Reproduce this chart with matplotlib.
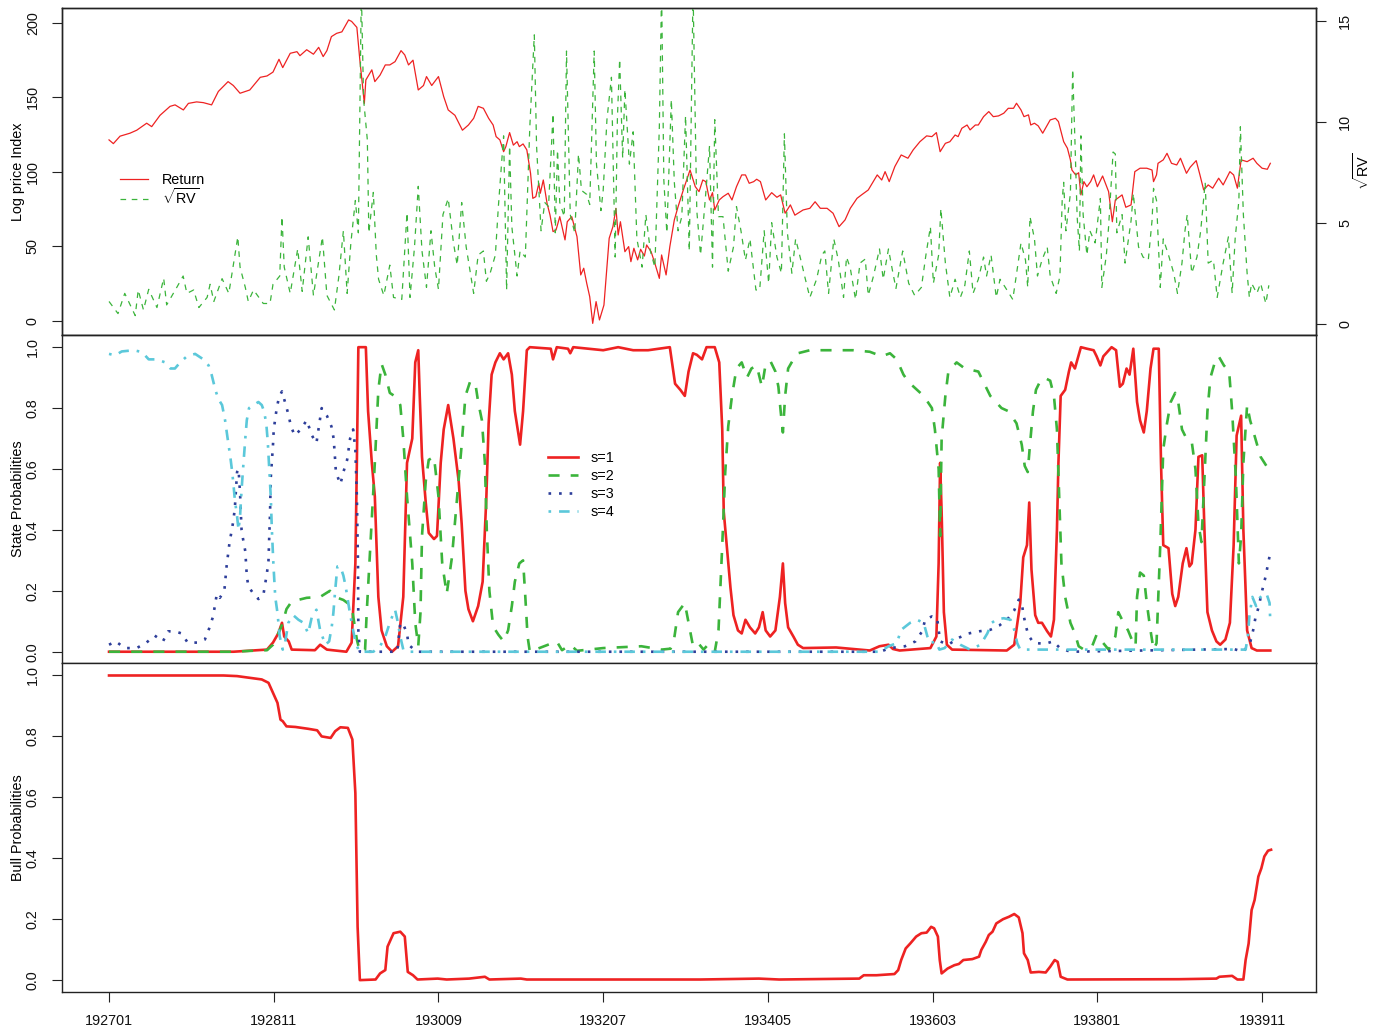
import matplotlib
matplotlib.use("Agg")
import matplotlib.pyplot as plt
import numpy as np

# ---------------- data (time in months since 1927-01) ----------------
tick_months = [0, 22, 44, 66, 88, 110, 132, 154]
tick_labels = ["192701", "192811", "193009", "193207", "193405", "193603", "193801", "193911"]

ret_t = [0.0,0.58,1.47,2.8,3.7,5.03,5.7,6.81,8.15,8.82,9.93,10.6,11.7,12.6,13.7,14.6,15.9,16.6,17.5,18.8,
         20.2,21.1,21.9,22.7,23.2,24.2,25.1,25.5,26.4,27.3,28.0,28.6,29.1,29.7,30.4,31.1,32.0,32.4,33.1,33.5,
         34.1,34.3,35.1,35.5,36.2,36.9,37.5,38.2,39.0,39.5,40.0,40.6,41.3,42.0,42.4,43.1,44.0,44.7,45.3,46.2,
         47.2,48.0,48.7,49.3,50.0,50.7,51.3,51.7,52.2,52.7,53.0,53.5,54.0,54.5,54.8,55.3,55.8,56.3,56.6,57.0,
         57.4,57.6,58.0,58.5,58.9,59.3,59.7,60.2,60.6,60.9,61.2,61.8,62.5,63.0,63.4,63.8,64.2,64.6,65.05,65.5,
         66.1,66.8,67.3,67.7,68.0,68.3,68.9,69.4,69.7,70.1,70.6,71.0,71.5,71.8,72.4,72.9,73.5,73.8,74.4,74.9,
         75.5,76.0,76.7,77.6,78.3,78.8,79.3,79.7,80.2,80.6,80.9,81.5,82.0,82.7,83.2,83.8,84.5,85.0,85.5,86.1,
         86.5,87.0,87.7,88.5,89.2,89.7,90.3,91.0,91.6,92.7,93.6,94.3,95.0,95.9,96.7,97.5,98.3,99.0,99.9,100.5,
         101.4,102.6,103.2,103.65,104.2,104.95,105.8,106.7,107.4,108.3,109.2,109.9,110.5,111.0,111.7,112.3,
         113.0,113.4,113.9,114.6,115.0,115.7,116.1,116.8,117.5,118.1,118.8,119.5,120.1,120.8,121.2,121.8,122.2,
         122.8,123.1,123.6,124.1,124.7,125.2,125.7,126.4,126.8,127.5,128.0,128.4,128.6,129.1,129.5,129.8,130.2,
         130.6,131.1,131.5,132.0,132.7,133.5,134.0,134.4,135.3,135.8,136.5,137.0,137.7,138.6,139.3,139.5,139.9,
         140.1,140.8,141.3,141.9,142.6,143.1,143.9,144.4,145.2,145.7,146.2,146.8,147.4,148.2,148.8,149.7,150.2,
         150.7,151.2,152.0,152.8,153.3,154.0,154.7,155.1]
ret_v = [121.5,119,124,126,128,132.7,130.4,138,144,145,141.6,146,147,146.5,145,154,160.6,158,152.8,155,
         163.5,164.4,167,175.6,170,179.6,180.7,178,182,179,183.6,177.4,181.4,190.8,193,194,202,201,197,175,
         146,161.7,168.5,160.6,165,171.8,171.8,174,181.4,178.5,171.8,175,155,158,164,158,164,150.5,141.6,138,
         128,131.5,136,144,142.7,136,131.5,123.7,121.5,113.6,117,126.4,118,120.3,117,118.8,114.8,99,82.3,83.4,
         92.4,85.7,94.6,79,71,60,61,70,61,54.4,66.6,70,56.6,30.9,35.4,25.3,16.3,-1.6,13,0.7,
         10.7,55.5,63.3,75.6,57.7,66.6,46.5,49.9,39.8,48.8,41,48.1,43.6,51,46.5,38.7,28.6,44.3,30.9,49.9,
         67.8,76.7,87.9,101.3,90.1,86.8,94.6,93.5,81.2,86.1,74.5,81.2,83.4,85.7,81.2,90.1,98,98,92.4,93.5,
         95.1,93.5,81.2,86.1,83,84.6,72.3,77.9,71,74.5,75.6,80,75.6,75.6,72.3,63.3,67.8,75.6,82.3,84.6,
         87.9,98,94.6,100.2,93.5,103.6,111.4,109.2,114.8,120.3,124.2,123.7,126.4,113.6,119.2,120.3,
         124.8,123.7,129.3,131.5,128.2,131.5,131.5,137.1,140.5,137.1,137.6,139.4,142.7,142.7,146.1,141.6,137.1,
         138.3,131.5,132.7,130.9,126,130.4,134.9,136,133.8,120.3,115.9,108.1,101.3,98,99.5,84.6,93.5,
         90.1,93.5,98,90.1,97.3,86.8,66.6,81.2,84.6,76.3,77.9,100.2,102.5,102.5,101.3,93.5,98,
         105.8,108.1,112.5,105.8,104.7,109.2,99.1,103.2,107.6,98,87.9,91.3,89.1,95.8,91.3,100.2,98,
         89.1,108.1,106.9,109.2,105.8,102.5,101.8,105.8]

rv_t = [0.0,1.2,2.1,3.5,3.9,4.6,5.3,6.4,7.3,7.7,9.1,9.9,10.4,11.3,12.0,13.1,13.5,14.0,15.1,16.0,16.6,17.2,17.5,
        18.2,18.6,19.3,20.6,21.5,21.9,22.8,23.1,23.4,24.2,25.2,25.8,26.6,27.3,28.5,29.1,30.1,30.7,31.3,31.8,
        32.3,32.9,33.3,33.7,34.0,34.5,34.7,35.3,35.7,36.0,36.7,37.5,38.0,39.1,39.8,40.2,40.8,41.3,41.8,42.4,
        43.0,43.5,44.0,44.6,45.3,46.0,46.5,47.1,47.7,48.7,49.3,50.0,50.4,
        50.9,51.6,52.0,52.7,53.1,53.5,53.8,54.5,54.9,55.6,56.2,56.8,57.1,57.7,58.2,58.7,59.3,59.6,59.9,60.2,
        60.8,61.1,61.6,62.2,62.7,63.1,63.8,64.2,64.8,65.1,65.7,66.0,66.5,67.1,67.6,67.9,68.2,68.6,68.9,69.5,
        70.0,70.5,71.2,71.7,72.3,72.9,73.2,73.5,73.8,74.1,74.5,75.1,75.5,76.0,76.5,77.0,77.5,78.0,78.5,79.0,
        79.6,80.2,80.6,80.9,81.4,82.0,82.7,83.4,83.8,84.4,85.0,85.6,86.4,86.9,87.5,88.1,88.5,89.2,89.8,90.2,
        90.6,91.2,91.7,92.5,92.9,93.6,94.5,95.2,95.6,96.1,96.8,97.4,98.1,98.5,99.0,99.7,100.3,101.0,101.4,
        102.1,102.9,103.4,104.1,104.7,
        105.1,106.0,106.8,107.6,108.5,109.1,109.7,110.1,110.8,111.1,111.7,112.3,113.0,113.7,114.3,114.9,115.4,
        116.1,116.8,117.2,117.8,118.5,119.0,119.7,120.7,121.1,121.8,122.4,122.7,123.0,123.6,124.0,124.6,125.3,
        125.7,126.5,127.0,127.3,127.5,127.8,128.4,128.7,129.0,129.3,129.6,129.8,130.1,130.6,131.0,131.7,132.4,
        132.6,133.2,133.5,134.1,134.4,134.6,135.3,135.7,136.5,136.8,137.5,138.1,138.8,139.3,139.5,139.9,140.4,
        140.8,141.5,142.2,142.7,143.3,143.7,144.0,144.6,145.3,145.8,146.4,146.8,147.5,148.0,148.8,149.5,150.0,
        150.4,150.9,151.1,151.5,152.0,152.3,152.6,153.3,153.8,154.5,154.9]
rv_v = [1.1,0.5,1.5,0.4,1.67,0.68,1.7,0.8,2.25,0.93,1.83,2.36,1.5,1.67,0.8,1.3,1.95,1.1,2.23,1.5,2.9,4.3,2.8,
        1.8,1.1,1.67,1.0,1.0,1.95,2.36,5.3,2.8,1.5,3.7,1.6,4.3,1.4,4.3,1.4,0.68,2.36,4.6,1.5,
        4.0,6.1,4.5,16.5,11.1,9.1,4.5,6.5,3.4,2.2,1.4,2.9,1.3,1.2,5.5,1.3,3.8,6.8,3.6,1.8,
        4.6,2.8,1.7,5.4,6.2,4.0,2.9,6.0,3.8,1.5,3.4,3.6,2.1,
        2.5,3.4,5.8,9.3,1.67,8.8,4.8,2.36,3.6,3.3,9.75,14.3,8.8,4.6,6.0,5.8,10.4,4.5,8.6,6.0,
        5.3,13.5,5.4,4.5,8.4,6.6,6.4,5.9,13.5,7.9,5.6,6.6,10.1,12.2,3.3,10.2,13.1,8.2,11.6,7.9,
        9.5,4.2,2.8,5.4,3.6,2.8,6.2,9.75,16.5,7.1,4.5,11.1,7.0,4.6,5.3,10.3,3.6,16.5,5.6,3.4,
        6.0,8.8,2.8,10.1,5.3,5.3,2.6,3.8,5.8,4.6,3.15,4.2,1.67,1.67,4.6,2.0,5.0,3.3,2.5,9.4,
        4.5,2.5,4.2,3.0,2.36,1.3,2.2,3.4,3.6,1.5,4.2,3.15,1.3,3.3,2.75,1.2,3.0,3.2,1.4,
        2.36,3.7,2.2,3.7,2.5,
        1.75,3.6,2.0,1.4,1.8,3.4,4.8,2.0,3.4,5.7,3.0,1.3,2.2,1.3,1.9,3.6,1.5,
        2.2,3.3,2.36,3.4,1.3,2.2,1.8,1.2,2.2,4.0,3.15,1.8,5.3,4.2,2.36,3.15,3.8,
        2.36,1.5,2.36,6.1,7.0,4.6,6.45,12.6,9.1,5.3,3.6,9.3,5.4,3.4,4.6,4.0,6.2,
        1.8,3.4,4.8,8.5,8.4,4.5,5.4,3.0,5.1,6.45,3.8,3.3,3.15,5.1,6.7,6.1,1.8,
        4.2,3.4,2.5,1.5,3.0,4.6,5.4,2.5,3.3,4.6,7.0,3.0,3.15,1.3,3.0,4.3,1.5,
        4.2,6.1,9.75,5.4,2.5,1.3,2.0,1.5,2.0,1.0,1.9]

s1_t = [0,16.6,21.1,21.9,22.6,23.1,23.4,24.0,24.4,27.5,28.2,29.1,31.7,32.4,32.9,33.1,33.3,34.3,34.6,35.1,35.5,
        35.97,36.4,37.1,37.8,38.6,39.3,39.8,40.5,40.9,41.3,41.5,41.8,42.3,42.7,43.4,43.8,44.3,44.7,45.3,46.0,
        46.7,47.1,47.6,48.0,48.6,49.3,49.9,50.4,50.7,51.1,51.6,52.2,52.7,53.3,53.8,54.2,54.9,55.3,55.8,56.2,
        59.0,59.3,59.8,61.3,61.6,62.0,66.0,68.0,70.0,72.0,74.9,75.6,76.3,76.9,77.4,78.0,78.5,79.2,79.8,80.9,
        81.5,81.9,82.1,82.5,83.0,83.4,84.0,84.5,85.0,85.6,86.3,86.8,87.3,87.7,88.3,89.0,89.6,90.0,90.3,90.7,
        91.4,92.0,92.7,97.1,101.6,102.9,104.1,104.7,105.6,109.7,110.5,110.8,111.0,111.2,111.5,111.9,112.6,
        119.9,120.9,121.7,122.1,122.6,122.9,123.2,123.7,124.1,124.6,125.3,125.8,126.2,126.6,126.8,127.1,127.7,
        128.2,128.5,129.0,129.8,130.6,131.5,131.9,132.4,132.8,133.9,134.5,135.0,135.4,135.9,136.3,136.8,137.3,
        137.7,138.2,138.6,139.1,139.5,140.2,140.5,140.8,141.5,142.0,142.4,142.8,143.4,143.9,144.3,144.6,145.1,
        145.5,146.0,146.3,146.7,147.3,147.9,148.4,149.1,149.7,150.2,150.6,151.2,151.5,152.0,152.6,153.3,155.1]
s1_v = [0,0,0.007,0.03,0.06,0.095,0.05,0.034,0.007,0.005,0.023,0.007,0,0.03,0.29,0.62,1.0,1.0,0.79,0.62,0.51,
        0.18,0.07,0.018,0,0.018,0.18,0.62,0.7,0.95,0.99,0.84,0.64,0.49,0.39,0.37,0.38,0.62,0.73,0.81,0.70,
        0.56,0.42,0.2,0.14,0.1,0.15,0.23,0.51,0.75,0.91,0.95,0.98,0.96,0.98,0.91,0.79,0.68,0.79,0.99,1.0,
        0.995,0.96,1.0,0.995,0.98,1.0,0.99,1.0,0.99,0.99,1.0,0.88,0.86,0.84,0.92,0.98,0.975,0.96,1.0,1.0,
        0.95,0.73,0.46,0.35,0.21,0.12,0.07,0.06,0.105,0.08,0.06,0.08,0.13,0.07,0.05,0.07,0.18,0.29,0.16,0.08,
        0.05,0.023,0.012,0.014,0.004,0.018,0.023,0.009,0.004,0.012,0.05,0.29,0.62,0.46,0.13,0.023,0.007,
        0.004,0.023,0.16,0.31,0.35,0.49,0.27,0.12,0.095,0.095,0.067,0.05,0.105,0.4,0.62,0.84,0.86,
        0.92,0.95,0.93,1.0,0.995,0.99,0.97,0.94,0.97,1.0,0.99,0.87,0.88,0.93,0.91,0.995,0.82,
        0.76,0.72,0.79,0.93,0.995,0.995,0.62,0.35,0.34,0.19,0.15,0.18,0.29,0.34,0.28,0.29,0.4,
        0.64,0.645,0.4,0.13,0.07,0.034,0.023,0.04,0.095,0.35,0.71,0.775,0.4,0.07,0.012,0.004,0.004]

s2_t = [0,16.6,19.0,21.1,21.9,22.8,23.2,23.7,24.4,26.4,28.2,29.5,30.2,31.3,32.4,33.1,33.5,34.2,34.4,34.9,35.5,
        35.97,36.4,36.9,37.5,38.4,38.9,39.3,39.8,40.5,40.9,41.3,41.6,41.8,42.3,42.7,43.4,44.0,44.5,45.1,45.8,
        46.5,47.1,47.6,48.2,48.9,49.3,49.8,50.2,50.45,50.8,51.3,52.0,52.7,53.3,53.8,54.2,54.8,55.3,55.6,55.9,
        56.2,59.8,60.5,61.6,62.5,66.0,71.1,73.8,75.0,75.4,76.0,76.9,77.6,78.0,78.7,79.4,80.0,80.9,81.4,81.9,
        82.3,82.7,83.2,83.8,84.5,85.2,85.8,86.5,87.2,87.6,88.3,89.0,89.4,89.7,90.0,90.3,90.7,91.4,92.0,93.6,
        95.0,97.0,99.4,101.6,103.2,104.3,105.2,106.1,106.8,107.9,108.8,109.9,110.3,110.8,111.0,111.2,111.7,
        112.1,113.2,114.3,116.1,116.8,117.7,119.2,120.1,121.2,121.9,122.3,122.7,123.0,123.4,123.8,124.4,124.9,
        125.7,126.2,126.6,126.9,127.2,127.7,128.4,129.0,129.5,130.2,131.3,131.9,132.6,133.5,134.4,134.8,135.5,
        136.1,136.6,137.1,137.3,137.7,138.2,138.6,139.1,139.5,139.9,140.4,140.6,140.8,141.3,141.8,142.4,142.8,
        143.3,143.9,144.6,145.1,145.5,145.9,146.3,146.7,147.1,147.8,148.2,148.9,149.6,150.0,150.5,150.9,151.2,
        151.5,152.0,152.4,153.1,153.8,155.1]
s2_v = [0,0,0.003,0.005,0.023,0.07,0.095,0.14,0.165,0.177,0.18,0.2,0.18,0.17,0.15,0.04,0,0.007,0.12,0.35,0.62,
        0.86,0.945,0.91,0.85,0.835,0.81,0.70,0.51,0.29,0.095,0.018,0.13,0.38,0.56,0.63,0.64,0.51,0.29,0.19,0.31,
        0.51,0.68,0.84,0.885,0.885,0.82,0.76,0.62,0.4,0.2,0.083,0.056,0.034,0.07,0.15,0.23,0.29,0.3,0.18,0.05,
        0,0.034,0.005,0.023,0.003,0.012,0.018,0.007,0.01,0.03,0.13,0.16,0.07,0.018,0.028,0.007,0.023,0,0.07,0.35,
        0.59,0.74,0.84,0.93,0.95,0.9,0.93,0.94,0.87,0.93,0.956,0.92,0.87,0.79,0.72,0.84,0.93,0.96,0.98,0.99,
        0.99,0.99,0.99,0.985,0.97,0.98,0.96,0.91,0.885,0.86,0.84,0.8,0.73,0.6,0.38,0.7,0.84,
        0.92,0.95,0.93,0.92,0.885,0.84,0.8,0.79,0.75,0.68,0.61,0.59,0.68,0.79,0.86,0.89,0.9,
        0.89,0.84,0.73,0.51,0.29,0.18,0.095,0.06,0.018,0.007,0.018,0.056,0.034,0.007,0.05,0.13,0.095,
        0.07,0.04,0.018,0.18,0.26,0.25,0.16,0.07,0.007,0.028,0.35,0.51,0.665,0.75,0.82,0.85,0.82,
        0.73,0.7,0.69,0.6,0.42,0.36,0.57,0.79,0.9,0.96,0.97,0.94,0.92,0.79,0.57,0.29,0.38,
        0.62,0.81,0.76,0.7,0.64,0.59]

s3_t = [0,0.9,2.1,3.7,5.0,6.1,7.2,7.9,8.8,9.7,10.5,11.8,12.8,13.4,13.9,14.4,14.8,15.4,15.7,16.1,16.4,16.6,16.8,
        17.1,17.3,17.5,17.7,17.9,18.2,18.4,18.6,19.3,19.95,20.6,21.1,21.3,21.4,21.5,21.6,21.9,22.0,22.4,22.7,
        23.1,23.5,23.95,24.3,24.8,25.6,26.4,27.1,27.7,28.4,29.1,29.7,30.0,30.2,30.3,30.9,31.3,31.8,32.2,32.6,
        32.9,33.1,33.25,33.3,33.5,38.5,38.9,39.3,39.8,40.0,41.1,103.0,104.3,106.3,107.7,108.6,109.0,109.9,110.6,
        111.0,112.1,113.4,114.8,116.2,117.7,118.9,120.1,120.9,121.5,121.9,122.1,122.4,122.8,123.5,125.0,126.1,
        127.0,128.4,150.2,151.5,152.4,152.8,153.1,153.5,154.1,154.5,154.8,155.1]
s3_v = [0.023,0.034,0.012,0.012,0.03,0.053,0.034,0.067,0.067,0.06,0.03,0.03,0.04,0.078,0.116,0.19,0.177,0.2,0.28,
        0.36,0.4,0.43,0.47,0.59,0.6,0.52,0.4,0.37,0.33,0.25,0.215,0.19,0.173,0.184,0.26,0.3,0.38,0.45,0.57,0.68,
        0.73,0.8,0.835,0.855,0.82,0.78,0.74,0.71,0.73,0.76,0.71,0.685,0.8,0.775,0.74,0.70,0.63,0.59,0.55,0.59,
        0.63,0.70,0.73,0.665,0.51,0.29,0.07,0,0,0.095,0.09,0.06,0.023,0,0,0.012,0.018,0.034,0.067,0.105,0.116,
        0.11,0.034,0.023,0.045,0.06,0.067,0.072,0.086,0.11,0.136,0.171,0.16,0.127,0.089,0.053,0.029,0.026,0.034,
        0.012,0,0.009,0,0.03,0.07,0.11,0.144,0.21,0.25,0.29,0.325]

s4_t = [0,0.8,1.7,3.3,4.4,5.3,6.4,7.5,8.2,8.8,9.5,10.4,11.5,12.6,13.3,13.7,14.2,14.6,15.1,15.5,15.9,16.2,16.4,
        16.6,16.8,17.1,17.3,17.5,17.7,17.9,18.2,18.4,18.7,19.3,19.95,20.4,20.7,21.0,21.2,21.4,21.6,21.75,21.95,
        22.2,22.5,22.8,23.2,23.5,23.95,24.6,25.3,25.96,26.6,27.1,27.7,28.2,28.9,29.4,29.75,29.96,30.2,30.5,30.9,
        31.3,31.6,32.1,32.5,32.9,33.3,33.5,35.3,36.2,36.9,37.5,38.0,38.2,38.5,38.9,39.3,40.0,103.0,104.1,105.2,
        105.8,107.0,107.9,108.8,109.3,109.7,110.4,110.9,111.6,112.6,113.7,115.0,116.4,117.3,117.9,118.6,119.5,
        120.4,120.9,121.3,121.7,151.8,152.1,152.3,152.7,153.2,153.7,154.1,154.6,155.0,155.1]
s4_v = [0.978,0.973,0.986,0.99,0.984,0.96,0.96,0.95,0.93,0.93,0.95,0.97,0.978,0.96,0.94,0.91,0.86,0.83,0.81,0.76,
        0.69,0.64,0.6,0.555,0.5,0.445,0.4,0.445,0.53,0.6,0.7,0.76,0.8,0.81,0.82,0.81,0.79,0.75,0.69,0.6,0.51,0.4,
        0.29,0.18,0.127,0.05,0.007,0.028,0.095,0.12,0.105,0.095,0.06,0.116,0.138,0.07,0.023,0.034,0.083,0.127,0.2,
        0.28,0.28,0.25,0.215,0.138,0.083,0.034,0.007,0,0,0.018,0.05,0.095,0.127,0.138,0.105,0.05,0.007,0,0,0.018,
        0.028,0.072,0.095,0.105,0.095,0.05,0.028,0.034,0.007,0.012,0.04,0.023,0.007,0.023,0.06,0.095,0.107,0.11,
        0.105,0.072,0.028,0.007,0.007,0.05,0.116,0.18,0.15,0.177,0.188,0.19,0.16,0.095]

bull_t = [0,15.3,17.1,18.9,20.4,21.3,21.9,22.5,22.9,23.2,23.7,24.9,26.6,27.8,28.4,29.6,30.2,30.9,31.9,32.5,32.9,
          33.2,33.5,35.6,36.2,36.9,37.2,38.0,38.9,39.5,39.9,40.6,41.2,43.9,45.1,48.1,50.2,50.8,55.0,55.8,79.0,
          86.8,89.5,100.2,100.8,102.5,104.9,105.4,105.8,106.4,107.0,107.8,108.5,109.2,109.8,110.2,110.7,110.95,
          111.2,112.0,112.9,113.5,114.1,115.3,116.2,116.5,117.1,117.5,118.0,118.5,119.4,120.2,120.9,121.5,122.0,
          122.2,122.7,123.1,124.2,125.1,125.7,126.3,126.7,127.1,128.0,142.9,147.9,148.3,150.0,150.7,151.5,151.8,
          152.2,152.6,153.0,153.5,153.9,154.3,154.8,155.2]
bull_v = [1.0,1.0,0.998,0.992,0.987,0.976,0.943,0.91,0.855,0.85,0.833,0.831,0.825,0.82,0.80,0.795,0.817,0.83,
          0.828,0.79,0.614,0.175,0.0,0.002,0.022,0.033,0.11,0.154,0.159,0.143,0.027,0.016,0.002,0.005,0.002,0.005,
          0.011,0.002,0.005,0.002,0.002,0.005,0.002,0.005,0.016,0.016,0.02,0.033,0.066,0.104,0.12,0.143,0.154,
          0.156,0.175,0.17,0.143,0.066,0.022,0.038,0.049,0.053,0.066,0.069,0.077,0.099,0.126,0.148,0.159,0.186,
          0.2,0.208,0.217,0.206,0.154,0.088,0.066,0.025,0.027,0.025,0.044,0.066,0.06,0.011,0.002,0.003,0.005,
          0.011,0.014,0.002,0.002,0.066,0.12,0.23,0.263,0.34,0.367,0.406,0.425,0.428]

# ---------------- style ----------------
plt.rcParams['font.family'] = ['Liberation Sans', 'DejaVu Sans']
plt.rcParams['font.size'] = 10.4
plt.rcParams['mathtext.fontset'] = 'custom'
plt.rcParams['mathtext.rm'] = 'Liberation Sans'
plt.rcParams['mathtext.it'] = 'Liberation Sans:italic'
plt.rcParams['mathtext.bf'] = 'Liberation Sans:bold'

RED = '#EE2222'
GREEN = '#3BB43B'
DBLUE = '#2D3E9A'
LBLUE = '#5BC8DA'

W, H = 1385, 1030
fig = plt.figure(figsize=(W / 100, H / 100), dpi=100)


def rect(l, t, r, b):
    return [l / W, 1 - b / H, (r - l) / W, (b - t) / H]


ax1 = fig.add_axes(rect(62, 8, 1316, 335))
ax2 = fig.add_axes(rect(62, 335, 1316, 663))
ax3 = fig.add_axes(rect(62, 663, 1316, 992))
ax1r = ax1.twinx()

XLIM = (-6.28, 161.2)

# top panel
l_ret, = ax1.plot(ret_t, ret_v, color=RED, lw=0.9, label='Return')
l_rv, = ax1r.plot(rv_t, rv_v, color=GREEN, lw=0.9, dashes=(4.5, 4.5), label=r'$\sqrt{\mathrm{RV}}$')
ax1.set_ylim(-9.4, 210)
ax1r.set_ylim(-0.56, 15.63)
ax1.set_yticks([0, 50, 100, 150, 200])
ax1r.set_yticks([0, 5, 10, 15])
ax1.set_ylabel('Log price Index')
ax1r.set_ylabel(r'$\sqrt{\mathrm{RV}}$')
ax1r.legend([l_ret, l_rv], ['Return', r'$\sqrt{\mathrm{RV}}$'], loc='upper left',
            bbox_to_anchor=(0.0463, 0.496), frameon=False, borderpad=0, borderaxespad=0,
            handlelength=1.94, handletextpad=0.97, labelspacing=0.0, fontsize=10.4)

# middle panel
LW = 1.9
ax2.plot(s1_t, s1_v, color=RED, lw=LW, label='s=1')
ax2.plot(s2_t, s2_v, color=GREEN, lw=LW, dashes=(4.2, 4.2), label='s=2')
ax2.plot(s3_t, s3_v, color=DBLUE, lw=LW, dashes=(1, 3), label='s=3')
ax2.plot(s4_t, s4_v, color=LBLUE, lw=LW, dashes=(1, 3, 4, 3), label='s=4')
ax2.set_ylim(-0.037, 1.04)
ax2.set_yticks([0.0, 0.2, 0.4, 0.6, 0.8, 1.0])
ax2.set_yticklabels(['0.0', '0.2', '0.4', '0.6', '0.8', '1.0'])
ax2.set_ylabel('State Probabilities')
ax2.legend(loc='upper left', bbox_to_anchor=(0.3876, 0.645), frameon=False, borderpad=0, borderaxespad=0,
           handlelength=2.08, handletextpad=0.83, labelspacing=0.26, fontsize=10.4)

# bottom panel
ax3.plot(bull_t, bull_v, color=RED, lw=LW)
ax3.set_ylim(-0.039, 1.041)
ax3.set_yticks([0.0, 0.2, 0.4, 0.6, 0.8, 1.0])
ax3.set_yticklabels(['0.0', '0.2', '0.4', '0.6', '0.8', '1.0'])
ax3.set_ylabel('Bull Probabilities')
ax3.set_xticks(tick_months)
ax3.set_xticklabels(tick_labels)

for ax in (ax1, ax2, ax3, ax1r):
    ax.set_xlim(*XLIM)
    for sp in ax.spines.values():
        sp.set_linewidth(1.0)
        sp.set_color('#222222')
    ax.tick_params(length=7, width=0.8, pad=9, colors='#222222', labelcolor='#111111')

for ax in (ax1, ax2):
    ax.tick_params(axis='x', bottom=False, labelbottom=False)
ax1r.tick_params(axis='x', bottom=False, labelbottom=False)

for ax in (ax1, ax2, ax3):
    ax.tick_params(axis='y', labelrotation=90)
    for lab in ax.get_yticklabels():
        lab.set_va('center')
    ax.yaxis.label.set_va('center')
    ax.yaxis.set_label_coords(-0.0351, 0.5)

ax1r.tick_params(axis='y', labelrotation=90)
for lab in ax1r.get_yticklabels():
    lab.set_va('center')
ax1r.yaxis.label.set_va('center')
ax1r.yaxis.label.set_rotation(90)
ax1r.yaxis.set_label_coords(1.0367, 0.5)

fig.savefig('out.png', dpi=100)
